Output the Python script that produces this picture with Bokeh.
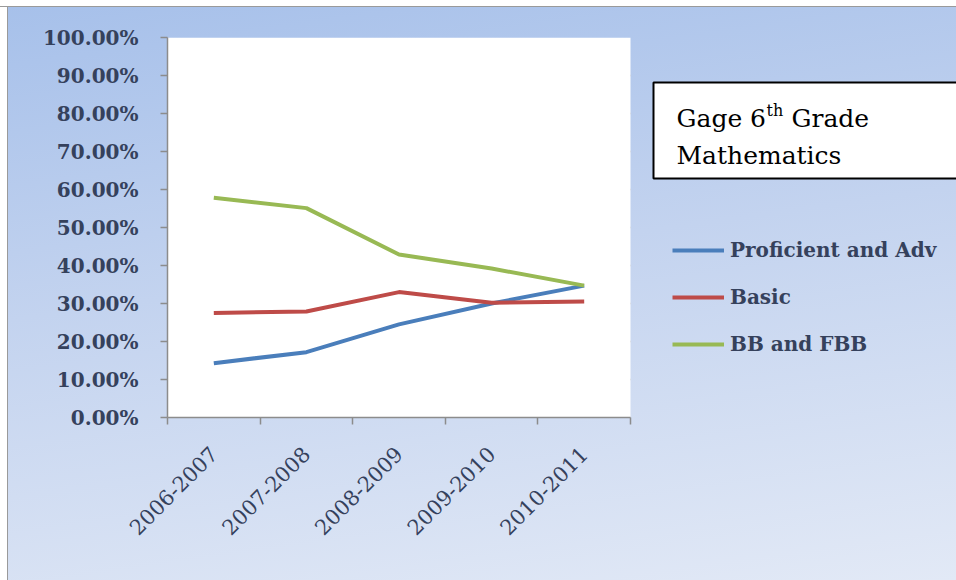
import numpy as np
from bokeh.plotting import figure
from bokeh.models import (Range1d, FixedTicker, NumeralTickFormatter, Legend, LegendItem,
                          BoxAnnotation, Label)
from bokeh.embed import file_html
from bokeh.resources import INLINE

# School years and share of students in each performance band
years = ["2006-2007", "2007-2008", "2008-2009", "2009-2010", "2010-2011"]
proficient_adv = [0.143, 0.172, 0.245, 0.300, 0.347]
basic = [0.275, 0.279, 0.330, 0.302, 0.305]
bb_fbb = [0.578, 0.551, 0.429, 0.392, 0.347]
y_ticks = [0.0, 0.1, 0.2, 0.3, 0.4, 0.5, 0.6, 0.7, 0.8, 0.9, 1.0]

series = [
    ("Proficient and Adv", proficient_adv, "#4a7ebb"),
    ("Basic", basic, "#be4b48"),
    ("BB and FBB", bb_fbb, "#98b954"),
]

TEXT = "#35415c"
SERIF = "DejaVu Serif"

W, H = 956, 580
LEFT, TOP, BOTTOM = 167, 37, 163
PLOT_W = 463  # width of the white plotting area

# each year sits in the middle of its own slot; ticks mark the slot edges
n = len(years)
x = np.arange(n) + 0.5

# the frame runs to the right edge so the legend and title box can sit beside the plot
frame_w = W - LEFT
p = figure(width=W, height=H, output_backend="svg", toolbar_location=None,
           x_range=Range1d(0, n * frame_w / PLOT_W), y_range=Range1d(0, 1),
           min_border_left=LEFT, min_border_right=0,
           min_border_top=TOP, min_border_bottom=BOTTOM)
p.border_fill_color = None
p.background_fill_color = None
p.outline_line_color = None
p.styles = {
    "background": (
        "linear-gradient(to bottom, #ffffff 0px, #ffffff 6px, #9a9a9a 6px, #9a9a9a 7px, transparent 7px),"
        "linear-gradient(to right, #ffffff 0px, #ffffff 7px, #9a9a9a 7px, #9a9a9a 8px, transparent 8px),"
        "linear-gradient(172deg, #a6c0ea 0%, #c3d3ef 45%, #e2e9f6 100%)"
    )
}

# white plotting area
p.add_layout(BoxAnnotation(left=0, right=n, bottom=0, top=1, fill_color="white",
                           fill_alpha=1, line_color=None, level="underlay"))

# x axis: labels at slot centres, tick marks on slot edges
p.xaxis.bounds = (0, n)
p.xaxis.ticker = FixedTicker(ticks=list(x), minor_ticks=list(range(n + 1)))
p.xaxis.major_label_overrides = {float(v): lab for v, lab in zip(x, years)}
p.xaxis.major_label_orientation = np.pi / 4
p.xaxis.major_tick_line_color = None
p.xaxis.minor_tick_line_color = "#8c8c8c"
p.xaxis.minor_tick_out = 7
p.xaxis.minor_tick_in = 0
p.xaxis.minor_tick_line_width = 1.5
p.xaxis.axis_line_color = "#8c8c8c"
p.xaxis.axis_line_width = 1.5
p.xaxis.major_label_text_font = SERIF
p.xaxis.major_label_text_font_size = "21px"
p.xaxis.major_label_text_color = TEXT
p.xaxis.major_label_standoff = 26

p.yaxis.ticker = FixedTicker(ticks=y_ticks)
p.yaxis.formatter = NumeralTickFormatter(format="0.00%")
p.yaxis.major_tick_line_color = "#8c8c8c"
p.yaxis.major_tick_out = 7
p.yaxis.major_tick_in = 0
p.yaxis.major_tick_line_width = 1.5
p.yaxis.minor_tick_line_color = None
p.yaxis.axis_line_color = "#8c8c8c"
p.yaxis.axis_line_width = 1.5
p.yaxis.major_label_text_font = SERIF
p.yaxis.major_label_text_font_size = "20px"
p.yaxis.major_label_text_font_style = "bold"
p.yaxis.major_label_text_color = TEXT
p.yaxis.major_label_standoff = 22

p.xgrid.grid_line_color = None
p.ygrid.ticker = FixedTicker(ticks=y_ticks)
p.ygrid.cross_bounds = (0, n)
p.ygrid.grid_line_color = "#a9a9a9"
p.ygrid.grid_line_width = 1.5

items = []
for name, vals, color in series:
    r = p.line(x, vals, line_color=color, line_width=4)
    items.append(LegendItem(label=name, renderers=[r]))

# legend position is measured from the frame's bottom-left corner
legend = Legend(items=items, location=(505, 61), orientation="vertical",
                glyph_width=52, glyph_height=20, spacing=23, label_standoff=6,
                padding=0, margin=0, background_fill_alpha=0, border_line_color=None,
                label_text_font=SERIF, label_text_font_size="20px",
                label_text_font_style="bold", label_text_color=TEXT)
p.add_layout(legend, "center")

# title box (screen units relative to the frame's bottom-left corner, y upwards)
def fy(py):
    return (H - BOTTOM) - py

def fx(px):
    return px - LEFT

p.add_layout(BoxAnnotation(left=fx(653), right=fx(W + 10), top=fy(82), bottom=fy(178),
                           left_units="screen", right_units="screen",
                           top_units="screen", bottom_units="screen",
                           fill_color="white", fill_alpha=1,
                           line_color="black", line_alpha=1, line_width=2))
title_font = dict(text_font=SERIF, text_color="black", text_baseline="alphabetic",
                  x_units="screen", y_units="screen")
p.add_layout(Label(x=fx(676), y=fy(118), text="Gage 6", text_font_size="25px", **title_font))
p.add_layout(Label(x=fx(766), y=fy(118) + 8, text="th", text_font_size="16px", **title_font))
p.add_layout(Label(x=fx(791), y=fy(118), text="Grade", text_font_size="25px", **title_font))
p.add_layout(Label(x=fx(676), y=fy(155), text="Mathematics", text_font_size="25px", **title_font))

open("out.html", "w").write(file_html(p, INLINE))
